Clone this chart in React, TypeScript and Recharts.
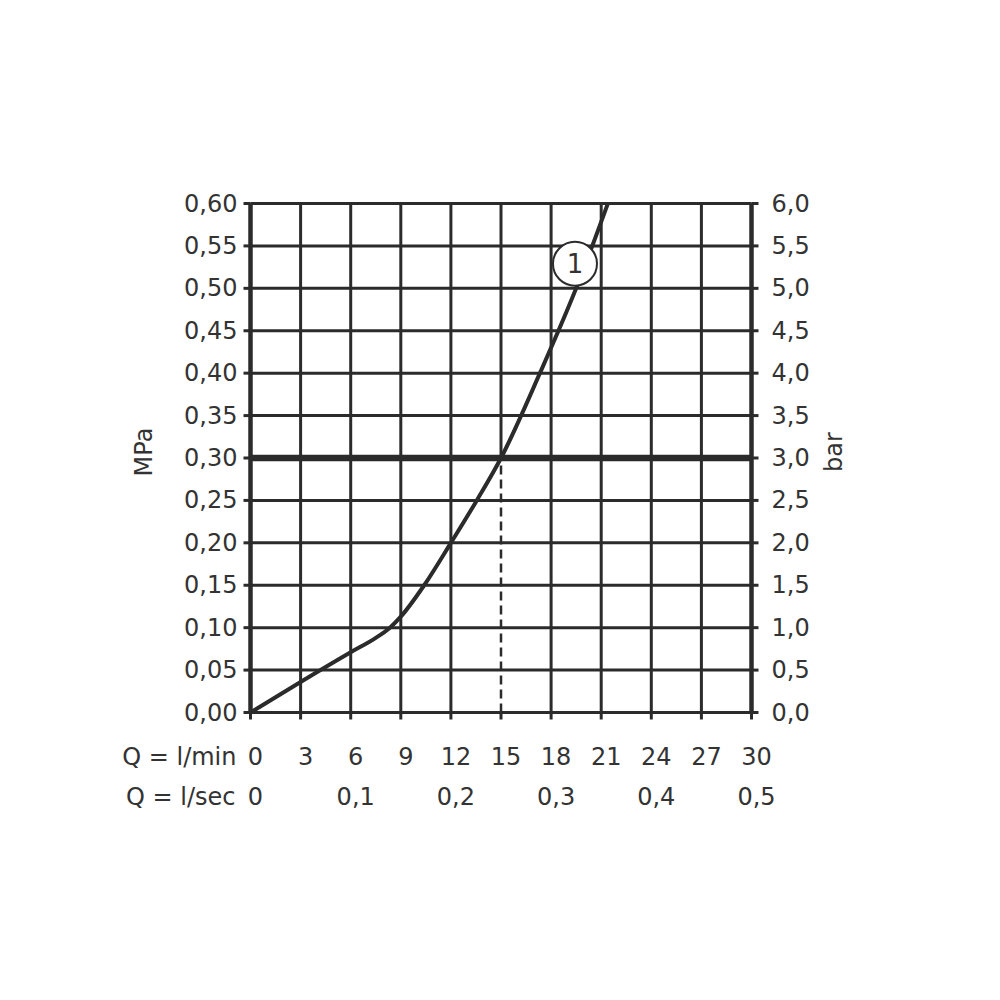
import React from 'react';
import { LineChart, Line, XAxis, YAxis, CartesianGrid, ReferenceLine, ReferenceDot } from 'recharts';

const flowLmin = [0, 3, 6, 7.5, 8.35, 9, 10.4, 12, 13.55, 15, 17.33, 19.5, 21.4];
const pressureMPa = [0, 0.036, 0.071, 0.088, 0.1, 0.113, 0.15, 0.2, 0.25, 0.3, 0.4, 0.5, 0.6];

const xTicks = [0, 3, 6, 9, 12, 15, 18, 21, 24, 27, 30];
const xGridValues = [0, 3, 6, 9, 12, 18, 21, 24, 27, 30];
const mpaTicks = [0, 0.05, 0.1, 0.15, 0.2, 0.25, 0.3, 0.35, 0.4, 0.45, 0.5, 0.55, 0.6];
const barTicks = [0, 0.5, 1, 1.5, 2, 2.5, 3, 3.5, 4, 4.5, 5, 5.5, 6];
const lsecPositions = [0, 6, 12, 18, 24, 30];
const lsecLabels = ['0', '0,1', '0,2', '0,3', '0,4', '0,5'];

const thresholdMPa = 0.3;
const thresholdFlow = 15;
const curveLabel = { x: 19.43, y: 0.529, text: '1' };

const data = flowLmin.map((q, i) => ({ q, p: pressureMPa[i] }));

const INK = '#2b2b2b';
const TEXT = '#333333';
const FONT = '"DejaVu Sans", sans-serif';
const FW = 400;
const FS = 24;

const XTick = (props: any) => {
  const { x, y, payload, index } = props;
  const v = payload.value;
  const i = lsecPositions.indexOf(v);
  return (
    <g fontFamily={FONT} fontWeight={FW} fontSize={FS} fill={TEXT}>
      <text x={x + 5} y={y + 37.5} textAnchor="middle" dominantBaseline="central">{v}</text>
      {i >= 0 && (
        <text x={x + 5} y={y + 77.5} textAnchor="middle" dominantBaseline="central">{lsecLabels[i]}</text>
      )}
      {index === 0 && (
        <>
          <text x={x - 14} y={y + 37.5} textAnchor="end" dominantBaseline="central">Q = l/min</text>
          <text x={x - 15} y={y + 77.5} textAnchor="end" dominantBaseline="central">Q = l/sec</text>
        </>
      )}
    </g>
  );
};

const LeftTick = (props: any) => {
  const { x, y, payload } = props;
  return (
    <text x={x} y={y} textAnchor="end" dominantBaseline="central" fontFamily={FONT} fontWeight={FW} fontSize={FS} fill={TEXT}>
      {Number(payload.value).toFixed(2).replace('.', ',')}
    </text>
  );
};

const RightTick = (props: any) => {
  const { x, y, payload } = props;
  return (
    <text x={x} y={y} textAnchor="start" dominantBaseline="central" fontFamily={FONT} fontWeight={FW} fontSize={FS} fill={TEXT}>
      {Number(payload.value).toFixed(1).replace('.', ',')}
    </text>
  );
};

const AxisTitle = (props: any) => {
  const { viewBox, text, cx } = props;
  const cy = viewBox.y + viewBox.height / 2 - 6;
  return (
    <text
      x={cx}
      y={cy}
      transform={`rotate(-90 ${cx} ${cy})`}
      textAnchor="middle"
      dominantBaseline="central"
      fontFamily={FONT}
      fontWeight={FW}
      fontSize={FS}
      fill={TEXT}
    >
      {text}
    </text>
  );
};

export default function App() {
  return (
    <div style={{ position: 'absolute', left: 0, top: 0, width: 1000, height: 1000, background: '#fff' }}>
      <LineChart
        width={1000}
        height={1000}
        data={data}
        margin={{ top: 203.5, bottom: 187.5, left: 130.5, right: 128.5 }}
      >
        <CartesianGrid
          yAxisId="l"
          stroke={INK}
          strokeWidth={3}
          verticalValues={xGridValues}
          horizontalValues={mpaTicks}
        />
        <XAxis
          dataKey="q"
          type="number"
          domain={[0, 30]}
          ticks={xTicks}
          interval={0}
          height={100}
          tickSize={7}
          tickMargin={0}
          axisLine={{ stroke: INK, strokeWidth: 3 }}
          tickLine={{ stroke: INK, strokeWidth: 3 }}
          tick={<XTick />}
          allowDataOverflow
        />
        <YAxis
          yAxisId="l"
          type="number"
          domain={[0, 0.6]}
          ticks={mpaTicks}
          interval={0}
          width={120}
          tickSize={7}
          tickMargin={6}
          axisLine={{ stroke: INK, strokeWidth: 4.5 }}
          tickLine={{ stroke: INK, strokeWidth: 3 }}
          tick={<LeftTick />}
          label={<AxisTitle text="MPa" cx={144} />}
          allowDataOverflow
        />
        <YAxis
          yAxisId="r"
          orientation="right"
          type="number"
          domain={[0, 6]}
          ticks={barTicks}
          interval={0}
          width={120}
          tickSize={7}
          tickMargin={13}
          axisLine={{ stroke: INK, strokeWidth: 4.5 }}
          tickLine={{ stroke: INK, strokeWidth: 3 }}
          tick={<RightTick />}
          label={<AxisTitle text="bar" cx={834} />}
          allowDataOverflow
        />
        <ReferenceLine
          yAxisId="l"
          segment={[{ x: thresholdFlow, y: thresholdMPa }, { x: thresholdFlow, y: 0.6 }]}
          stroke={INK}
          strokeWidth={3}
        />
        <ReferenceLine
          yAxisId="l"
          segment={[{ x: thresholdFlow, y: 0 }, { x: thresholdFlow, y: thresholdMPa }]}
          stroke={INK}
          strokeWidth={2.5}
          strokeDasharray="9 5"
        />
        <ReferenceLine yAxisId="l" y={thresholdMPa} stroke={INK} strokeWidth={6.5} />
        <Line
          yAxisId="l"
          dataKey="p"
          type="monotone"
          stroke={INK}
          strokeWidth={4}
          dot={false}
          isAnimationActive={false}
        />
        <ReferenceDot
          yAxisId="l"
          x={curveLabel.x}
          y={curveLabel.y}
          r={22}
          fill="#fff"
          stroke={INK}
          strokeWidth={2}
          ifOverflow="visible"
          label={{ value: curveLabel.text, position: 'center', fontFamily: FONT, fontWeight: FW, fontSize: 26, fill: TEXT }}
        />
      </LineChart>
    </div>
  );
}
